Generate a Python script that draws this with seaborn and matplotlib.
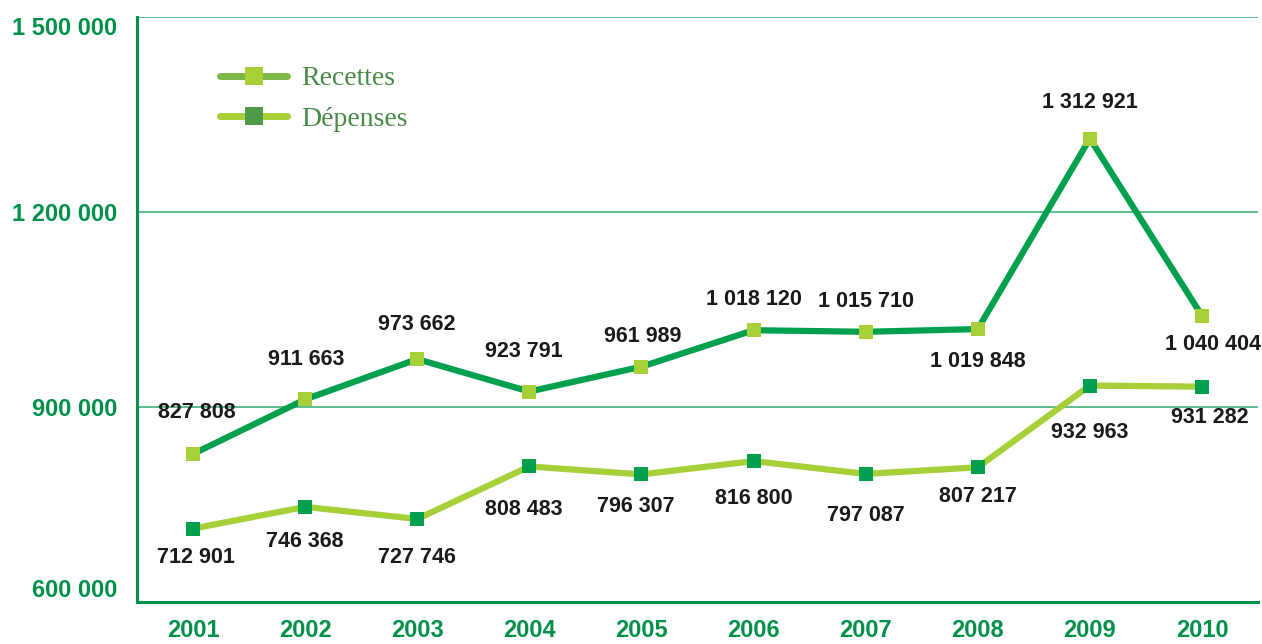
import numpy as np
import pandas as pd
import matplotlib
matplotlib.use("Agg")
import matplotlib.pyplot as plt
from matplotlib.lines import Line2D
from matplotlib.ticker import FixedLocator, FuncFormatter
import seaborn as sns

# Data
years = ['2001', '2002', '2003', '2004', '2005', '2006', '2007', '2008', '2009', '2010']
recettes = [827808, 911663, 973662, 923791, 961989, 1018120, 1015710, 1019848, 1312921, 1040404]
depenses = [712901, 746368, 727746, 808483, 796307, 816800, 797087, 807217, 932963, 931282]
y_ticks = [600000, 900000, 1200000, 1500000]

# Label offsets (points) relative to each marker
rec_offsets = [(3, 30), (1, 29), (0, 25), (-4, 29), (1, 22), (0, 22), (0, 22), (0, -23), (0, 26), (8, -21)]
dep_offsets = [(2, -21), (0, -25), (0, -28), (-4, -31), (-4, -23), (0, -27), (0, -30), (0, -21), (0, -34), (6, -22)]

DARK = '#00a04e'
LIGHT = '#a6cf38'
AXIS = '#00904a'
GRID = '#5dbb8e'

sns.set_theme(style="white")
plt.rcParams['font.family'] = ['Liberation Sans', 'DejaVu Sans']

df = pd.DataFrame({'year': years * 2,
                   'value': recettes + depenses,
                   'serie': ['Recettes'] * len(years) + ['Dépenses'] * len(years)})

fig = plt.figure(figsize=(12.62, 6.44), dpi=100)
ax = fig.add_axes([137 / 1262, 42 / 644, 1121 / 1262, 585 / 644])

sns.lineplot(data=df[df.serie == 'Recettes'], x='year', y='value', ax=ax, color=DARK,
             lw=4.5, marker='s', markersize=10, markerfacecolor=LIGHT, markeredgewidth=0,
             legend=False, zorder=3)
sns.lineplot(data=df[df.serie == 'Dépenses'], x='year', y='value', ax=ax, color=LIGHT,
             lw=4.5, marker='s', markersize=10, markerfacecolor=DARK, markeredgewidth=0,
             legend=False, zorder=3)

def fmt(v):
    return f"{int(v):,}".replace(',', ' ')

for i, v in enumerate(recettes):
    ax.annotate(fmt(v), (i, v), xytext=rec_offsets[i], textcoords='offset points',
                ha='center', va='center', fontsize=15.5, fontweight='bold', color='#1a1a1a')
for i, v in enumerate(depenses):
    ax.annotate(fmt(v), (i, v), xytext=dep_offsets[i], textcoords='offset points',
                ha='center', va='center', fontsize=15.5, fontweight='bold', color='#1a1a1a')

ax.set_xlim(-0.5, len(years) - 0.5)
ax.set_ylim(600000, 1500000)
ax.set_yticks(y_ticks)
ax.yaxis.set_major_formatter(FuncFormatter(lambda v, p: fmt(v)))
ax.grid(axis='y', color=GRID, lw=1.4)
ax.set_axisbelow(True)
ax.set_xlabel('')
ax.set_ylabel('')

for s in ['top', 'right']:
    ax.spines[s].set_visible(False)
ax.spines['left'].set_color(AXIS)
ax.spines['bottom'].set_color(AXIS)
ax.spines['left'].set_linewidth(2.2)
ax.spines['bottom'].set_linewidth(2.2)

ax.tick_params(axis='x', which='major', length=0, pad=12, labelsize=17, labelcolor=AXIS)
ax.xaxis.set_minor_locator(FixedLocator(np.arange(0.5, len(years), 1)))
ax.tick_params(axis='x', which='minor', direction='in', length=10, width=1.6, color=AXIS)
ax.tick_params(axis='y', which='major', length=0, pad=14, labelcolor=AXIS)
for lab in ax.get_xticklabels():
    lab.set_fontweight('bold')
for lab in ax.get_yticklabels():
    lab.set_fontweight('bold')
    lab.set_fontsize(17)
ylabs = ax.get_yticklabels()
ylabs[0].set_va('bottom')
ylabs[-1].set_va('top')

handles = [Line2D([], [], color='#7ab843', lw=5, marker='s', markersize=13,
                  markerfacecolor=LIGHT, markeredgewidth=0),
           Line2D([], [], color=LIGHT, lw=5, marker='s', markersize=13,
                  markerfacecolor='#4f9a4a', markeredgewidth=0)]
leg = ax.legend(handles, ['Recettes', 'Dépenses'], loc='upper left',
                bbox_to_anchor=(0.062, 0.94), frameon=False, borderpad=0,
                handlelength=2.4, handletextpad=0.5, labelspacing=0.55,
                prop={'family': 'Liberation Serif', 'size': 20})
for t in leg.get_texts():
    t.set_color('#4a8a48')

fig.savefig('out.png', dpi=100)
